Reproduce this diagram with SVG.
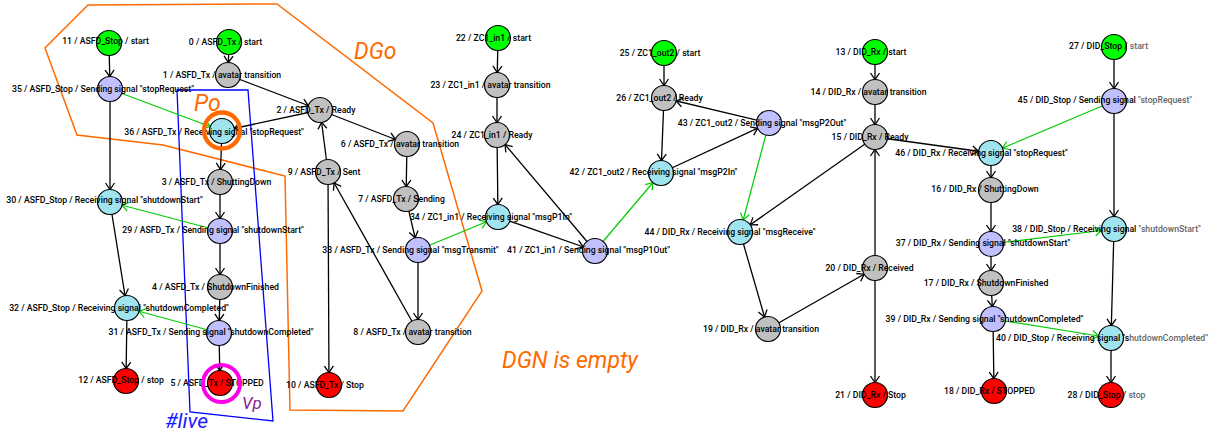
<svg xmlns="http://www.w3.org/2000/svg" width="1215" height="439" viewBox="0 0 1215 439">
<style>
.n circle{stroke:#000;stroke-width:1.2}
.start circle{fill:#00ff00}
.st circle{fill:#c0c0c0}
.snd circle{fill:#c0c0ff}
.rcv circle{fill:#a0e4f0}
.stop circle{fill:#ff0000}
.n text{font-family:Roboto,"Liberation Sans",sans-serif;font-size:8.7px;font-weight:500;text-anchor:middle;dominant-baseline:central;fill:#000}
.n text .f{fill:#666}
#edges line{stroke:#000;stroke-width:1.3;marker-end:url(#ab)}
#edges line.sig{stroke:#00cc00;stroke-width:1.2;marker-end:url(#ag)}
.ann{font-family:Roboto,"Liberation Sans",sans-serif;font-style:italic}
</style>
<defs>
<marker id="ab" markerUnits="userSpaceOnUse" markerWidth="30" markerHeight="20" refX="0" refY="0" orient="auto" overflow="visible"><path d="M-19,-4.5 L-12.5,0 L-19,4.5" fill="none" stroke="#000" stroke-width="1.3"/></marker>
<marker id="ag" markerUnits="userSpaceOnUse" markerWidth="30" markerHeight="20" refX="0" refY="0" orient="auto" overflow="visible"><path d="M-19,-4.5 L-12.5,0 L-19,4.5" fill="none" stroke="#00cc00" stroke-width="1.2"/></marker>
</defs>
<rect width="1215" height="439" fill="#fff"/>
<g id="regions">
<polygon points="88,5 277,4 433,123 482,291 403,411 290,410 285,176 163,145 77,135 45,48" fill="none" stroke="#ff6a00" stroke-width="1.5"/>
<polygon points="177,90 248,90 273,421 190,412" fill="none" stroke="#0000ff" stroke-width="1.3"/>
</g>
<g id="edges">
<line x1="109" y1="43" x2="110" y2="89"/>
<line x1="110" y1="89" x2="110" y2="202"/>
<line x1="110" y1="202" x2="127" y2="308"/>
<line x1="127" y1="308" x2="126" y2="381"/>
<line x1="229" y1="42" x2="228" y2="75"/>
<line x1="228" y1="75" x2="320" y2="110"/>
<line x1="320" y1="110" x2="222" y2="131"/>
<line x1="222" y1="131" x2="220" y2="182"/>
<line x1="220" y1="182" x2="220" y2="231"/>
<line x1="220" y1="231" x2="220" y2="287"/>
<line x1="220" y1="287" x2="219" y2="333"/>
<line x1="219" y1="333" x2="220" y2="383"/>
<line x1="320" y1="110" x2="407" y2="144"/>
<line x1="407" y1="144" x2="406" y2="199"/>
<line x1="406" y1="199" x2="418" y2="250"/>
<line x1="418" y1="250" x2="418" y2="332"/>
<line x1="418" y1="332" x2="328" y2="172"/>
<line x1="328" y1="172" x2="320" y2="110"/>
<line x1="328" y1="172" x2="329" y2="385"/>
<line x1="498" y1="38" x2="497" y2="85"/>
<line x1="497" y1="85" x2="497" y2="135"/>
<line x1="497" y1="135" x2="498" y2="217"/>
<line x1="498" y1="217" x2="595" y2="251"/>
<line x1="595" y1="251" x2="497" y2="135"/>
<line x1="664" y1="53" x2="664" y2="98"/>
<line x1="664" y1="98" x2="661" y2="173"/>
<line x1="661" y1="173" x2="769" y2="123"/>
<line x1="769" y1="123" x2="664" y2="98"/>
<line x1="875" y1="52" x2="875" y2="92"/>
<line x1="875" y1="92" x2="875" y2="137"/>
<line x1="875" y1="137" x2="991" y2="153"/>
<line x1="875" y1="137" x2="740" y2="232"/>
<line x1="740" y1="232" x2="768" y2="329"/>
<line x1="768" y1="329" x2="875" y2="268"/>
<line x1="875" y1="268" x2="875" y2="137"/>
<line x1="875" y1="268" x2="875" y2="395"/>
<line x1="991" y1="153" x2="991" y2="190"/>
<line x1="991" y1="190" x2="991" y2="244"/>
<line x1="991" y1="244" x2="991" y2="283"/>
<line x1="991" y1="283" x2="993" y2="319"/>
<line x1="993" y1="319" x2="994" y2="391"/>
<line x1="1114" y1="47" x2="1114" y2="101"/>
<line x1="1114" y1="101" x2="1114" y2="229"/>
<line x1="1114" y1="229" x2="1111" y2="338"/>
<line x1="1111" y1="338" x2="1111" y2="395"/>
<line class="sig" x1="110" y1="89" x2="222" y2="131"/>
<line class="sig" x1="220" y1="231" x2="110" y2="202"/>
<line class="sig" x1="219" y1="333" x2="127" y2="308"/>
<line class="sig" x1="418" y1="250" x2="498" y2="217"/>
<line class="sig" x1="595" y1="251" x2="661" y2="173"/>
<line class="sig" x1="769" y1="123" x2="740" y2="232"/>
<line class="sig" x1="1114" y1="101" x2="991" y2="153"/>
<line class="sig" x1="991" y1="244" x2="1114" y2="229"/>
<line class="sig" x1="993" y1="319" x2="1111" y2="338"/>
</g>
<g id="nodes">
<g id="node-0" class="n start"><circle cx="229" cy="42" r="12.5"/><text x="225.5" y="42">0 / ASFD_Tx / start</text></g>
<g id="node-1" class="n st"><circle cx="228" cy="75" r="12.5"/><text x="222" y="75">1 / ASFD_Tx / avatar transition</text></g>
<g id="node-2" class="n st"><circle cx="320" cy="110" r="12.5"/><text x="316" y="110">2 / ASFD_Tx / Ready</text></g>
<g id="node-3" class="n st"><circle cx="220" cy="182" r="12.5"/><text x="216.5" y="182">3 / ASFD_Tx / ShuttingDown</text></g>
<g id="node-4" class="n st"><circle cx="220" cy="287" r="12.5"/><text x="215.5" y="287">4 / ASFD_Tx / ShutdownFinished</text></g>
<g id="node-5" class="n stop"><circle cx="220" cy="383" r="12.5"/><text x="217" y="383">5 / ASFD_Tx / STOPPED</text></g>
<g id="node-6" class="n st"><circle cx="407" cy="144" r="12.5"/><text x="400" y="144">6 / ASFD_Tx / avatar transition</text></g>
<g id="node-7" class="n st"><circle cx="406" cy="199" r="12.5"/><text x="401.5" y="199">7 / ASFD_Tx / Sending</text></g>
<g id="node-8" class="n st"><circle cx="418" cy="332" r="12.5"/><text x="412.5" y="332">8 / ASFD_Tx / avatar transition</text></g>
<g id="node-9" class="n st"><circle cx="328" cy="172" r="12.5"/><text x="324" y="172">9 / ASFD_Tx / Sent</text></g>
<g id="node-10" class="n stop"><circle cx="329" cy="385" r="12.5"/><text x="325" y="385">10 / ASFD_Tx / Stop</text></g>
<g id="node-11" class="n start"><circle cx="109" cy="43" r="12.5"/><text x="105.5" y="41">11 / ASFD_Stop / start</text></g>
<g id="node-12" class="n stop"><circle cx="126" cy="381" r="12.5"/><text x="121" y="380">12 / ASFD_Stop / stop</text></g>
<g id="node-13" class="n start"><circle cx="875" cy="52" r="12.5"/><text x="871" y="52">13 / DID_Rx / start</text></g>
<g id="node-14" class="n st"><circle cx="875" cy="92" r="12.5"/><text x="868.5" y="92">14 / DID_Rx / avatar transition</text></g>
<g id="node-15" class="n st"><circle cx="875" cy="137" r="12.5"/><text x="870" y="137">15 / DID_Rx / Ready</text></g>
<g id="node-16" class="n st"><circle cx="991" cy="190" r="12.5"/><text x="985" y="189">16 / DID_Rx / ShuttingDown</text></g>
<g id="node-17" class="n st"><circle cx="991" cy="283" r="12.5"/><text x="986" y="283">17 / DID_Rx / ShutdownFinished</text></g>
<g id="node-18" class="n stop"><circle cx="994" cy="391" r="12.5"/><text x="989.5" y="391">18 / DID_Rx / STOPPED</text></g>
<g id="node-19" class="n st"><circle cx="768" cy="329" r="12.5"/><text x="761" y="329">19 / DID_Rx / avatar transition</text></g>
<g id="node-20" class="n st"><circle cx="875" cy="268" r="12.5"/><text x="869.5" y="268">20 / DID_Rx / Received</text></g>
<g id="node-21" class="n stop"><circle cx="875" cy="395" r="12.5"/><text x="870.5" y="395">21 / DID_Rx / Stop</text></g>
<g id="node-22" class="n start"><circle cx="498" cy="38" r="12.5"/><text x="493.5" y="38">22 / ZC1_in1 / start</text></g>
<g id="node-23" class="n st"><circle cx="497" cy="85" r="12.5"/><text x="490.5" y="85">23 / ZC1_in1 / avatar transition</text></g>
<g id="node-24" class="n st"><circle cx="497" cy="135" r="12.5"/><text x="492" y="135">24 / ZC1_in1 / Ready</text></g>
<g id="node-25" class="n start"><circle cx="664" cy="53" r="12.5"/><text x="660" y="53">25 / ZC1_out2 / start</text></g>
<g id="node-26" class="n st"><circle cx="664" cy="98" r="12.5"/><text x="659.5" y="98">26 / ZC1_out2 / Ready</text></g>
<g id="node-27" class="n start"><circle cx="1114" cy="47" r="12.5"/><text x="1108.5" y="46">27 / DID_Stop / <tspan class="f">start</tspan></text></g>
<g id="node-28" class="n stop"><circle cx="1111" cy="395" r="12.5"/><text x="1106.5" y="395">28 / DID_Stop / <tspan class="f">stop</tspan></text></g>
<g id="node-29" class="n snd"><circle cx="220" cy="231" r="12.5"/><text x="213" y="230">29 / ASFD_Tx / Sending signal "shutdownStart"</text></g>
<g id="node-30" class="n rcv"><circle cx="110" cy="202" r="12.5"/><text x="104.5" y="200">30 / ASFD_Stop / Receiving signal "shutdownStart"</text></g>
<g id="node-31" class="n snd"><circle cx="219" cy="333" r="12.5"/><text x="211" y="332">31 / ASFD_Tx / Sending signal "shutdownCompleted"</text></g>
<g id="node-32" class="n rcv"><circle cx="127" cy="308" r="12.5"/><text x="119" y="308">32 / ASFD_Stop / Receiving signal "shutdownCompleted"</text></g>
<g id="node-33" class="n snd"><circle cx="418" cy="250" r="12.5"/><text x="410.5" y="250">33 / ASFD_Tx / Sending signal "msgTransmit"</text></g>
<g id="node-34" class="n rcv"><circle cx="498" cy="217" r="12.5"/><text x="491" y="217">34 / ZC1_in1 / Receiving signal "msgP1In"</text></g>
<g id="node-35" class="n snd"><circle cx="110" cy="89" r="12.5"/><text x="103" y="89">35 / ASFD_Stop / Sending signal "stopRequest"</text></g>
<g id="node-36" class="n rcv"><circle cx="222" cy="131" r="12.5"/><text x="214" y="132">36 / ASFD_Tx / Receiving signal "stopRequest"</text></g>
<g id="node-37" class="n snd"><circle cx="991" cy="244" r="12.5"/><text x="983" y="243">37 / DID_Rx / Sending signal "shutdownStart"</text></g>
<g id="node-38" class="n rcv"><circle cx="1114" cy="229" r="12.5"/><text x="1106.5" y="229">38 / DID_Stop / Receiving signal <tspan class="f">"shutdownStart"</tspan></text></g>
<g id="node-39" class="n snd"><circle cx="993" cy="319" r="12.5"/><text x="984.5" y="319">39 / DID_Rx / Sending signal "shutdownCompleted"</text></g>
<g id="node-40" class="n rcv"><circle cx="1111" cy="338" r="12.5"/><text x="1102" y="338">40 / DID_Stop / Receiving signal "s<tspan class="f">hutdownCompleted"</tspan></text></g>
<g id="node-41" class="n snd"><circle cx="595" cy="251" r="12.5"/><text x="588.5" y="250">41 / ZC1_in1 / Sending signal "msgP1Out"</text></g>
<g id="node-42" class="n rcv"><circle cx="661" cy="173" r="12.5"/><text x="653.5" y="172">42 / ZC1_out2 / Receiving signal "msgP2In"</text></g>
<g id="node-43" class="n snd"><circle cx="769" cy="123" r="12.5"/><text x="762" y="123">43 / ZC1_out2 / Sending signal "msgP2Out"</text></g>
<g id="node-44" class="n rcv"><circle cx="740" cy="232" r="12.5"/><text x="730" y="232">44 / DID_Rx / Receiving signal "msgReceive"</text></g>
<g id="node-45" class="n snd"><circle cx="1114" cy="101" r="12.5"/><text x="1105" y="100">45 / DID_Stop / Sending signal <tspan class="f">"stopRequest"</tspan></text></g>
<g id="node-46" class="n rcv"><circle cx="991" cy="153" r="12.5"/><text x="981.5" y="153">46 / DID_Rx / Receiving signal "stopRequest"</text></g>
</g>
<g id="annotations">
<circle cx="222" cy="130.5" r="18" fill="none" stroke="#ff6a00" stroke-width="4.3"/>
<circle cx="221.5" cy="383.5" r="18.5" fill="none" stroke="#ff00e6" stroke-width="4"/>
<text class="ann" x="194" y="111" font-size="23" fill="#ff6a00">Po</text>
<text class="ann" x="354" y="59" font-size="23" fill="#ff6a00">DGo</text>
<text class="ann" x="502" y="368" font-size="23" fill="#ff6a00">DGN is empty</text>
<text class="ann" x="242" y="409" font-size="17" fill="#8b1a8b">Vp</text>
<text class="ann" x="165" y="428" font-size="21" fill="#1a1aff">#live</text>
</g>
</svg>
